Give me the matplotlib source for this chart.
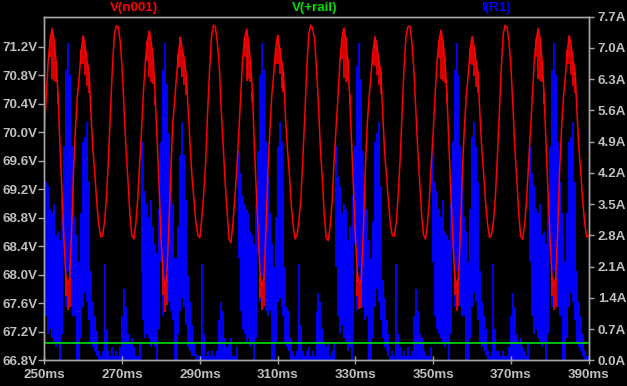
import numpy as np
import matplotlib
matplotlib.use("Agg")
import matplotlib.pyplot as plt

# ── Sample grid (ms) ─────────────────────────────────────────
T_START = 250.0
T_STEP = 0.5

# ── V(n001) upper trace, one value per 0.5 ms ───────────────
v_n001 = [
    70.0, 70.5, 71.0, 71.3, 71.45, 71.3, 71.0, 70.55, 69.85, 69.2,
    68.55, 68.0, 67.85, 67.95, 68.6, 69.45, 70.05, 70.5, 70.8, 71.15,
    71.35, 71.2, 71.0, 70.85, 70.25, 69.75, 69.4, 69.0, 68.7, 68.53,
    68.55, 68.75, 69.1, 69.65, 70.27, 70.9, 71.36, 71.49, 71.48, 71.28,
    70.9, 70.35, 69.77, 69.33, 68.85, 68.55, 68.5, 68.7, 69.05, 69.55,
    70.02, 70.58, 71.0, 71.28, 71.42, 71.25, 71.05, 70.5, 69.9, 69.25,
    68.5, 68.05, 67.8, 68.0, 68.65, 69.4, 70.1, 70.45, 70.78, 71.1,
    71.33, 71.15, 71.02, 70.8, 70.3, 69.8, 69.35, 69.05, 68.72, 68.55,
    68.52, 68.8, 69.15, 69.6, 70.3, 70.88, 71.35, 71.5, 71.47, 71.25,
    70.92, 70.3, 69.8, 69.3, 68.88, 68.5, 68.45, 68.72, 69.08, 69.5,
    69.98, 70.52, 71.02, 71.32, 71.44, 71.28, 70.98, 70.58, 69.82, 69.18,
    68.58, 67.98, 67.82, 67.98, 68.62, 69.48, 70.02, 70.52, 70.82, 71.18,
    71.36, 71.18, 70.98, 70.82, 70.22, 69.78, 69.42, 68.98, 68.68, 68.5,
    68.56, 68.78, 69.08, 69.68, 70.25, 70.92, 71.38, 71.5, 71.46, 71.3,
    70.88, 70.38, 69.75, 69.35, 68.82, 68.52, 68.48, 68.68, 69.02, 69.58,
    70.05, 70.48, 70.98, 71.3, 71.46, 71.32, 71.02, 70.52, 69.88, 69.22,
    68.52, 68.02, 67.86, 67.92, 68.58, 69.42, 70.08, 70.48, 70.8, 71.12,
    71.34, 71.22, 71.0, 70.86, 70.28, 69.72, 69.38, 69.02, 68.7, 68.55,
    68.54, 68.74, 69.12, 69.62, 70.28, 70.9, 71.35, 71.48, 71.49, 71.27,
    70.9, 70.33, 69.78, 69.32, 68.86, 68.56, 68.5, 68.7, 69.06, 69.56,
    70.0, 70.54, 71.0, 71.29, 71.43, 71.28, 71.02, 70.56, 69.86, 69.2,
    68.56, 68.0, 67.84, 67.96, 68.6, 69.46, 70.04, 70.5, 70.8, 71.16,
    71.34, 71.2, 71.0, 70.84, 70.26, 69.76, 69.4, 69.0, 68.7, 68.52,
    68.56, 68.76, 69.1, 69.66, 70.26, 70.9, 71.37, 71.5, 71.47, 71.27,
    70.9, 70.36, 69.76, 69.34, 68.84, 68.54, 68.5, 68.7, 69.04, 69.54,
    70.02, 70.5, 71.0, 71.3, 71.45, 71.3, 71.0, 70.55, 69.85, 69.2,
    68.55, 68.0, 67.85, 67.95, 68.6, 69.45, 70.05, 70.5, 70.8, 71.15,
    71.35, 71.2, 71.0, 70.85, 70.25, 69.75, 69.4, 69.0, 68.7, 68.53,
    68.55,
]

# ── V(n001) ripple noise: lower edge of the jagged bands ────
noise_ms = [
    251.5, 252.0, 252.5, 253.0, 253.5, 255.5, 256.0, 256.5, 259.5, 260.0, 260.5, 261.0, 261.5,
    276.5, 277.0, 277.5, 278.0, 278.5, 280.5, 281.0, 281.5, 284.5, 285.0, 285.5, 286.0, 286.5,
    301.5, 302.0, 302.5, 303.0, 303.5, 305.5, 306.0, 306.5, 309.5, 310.0, 310.5, 311.0, 311.5,
    326.5, 327.0, 327.5, 328.0, 328.5, 330.5, 331.0, 331.5, 334.5, 335.0, 335.5, 336.0, 336.5,
    351.5, 352.0, 352.5, 353.0, 353.5, 355.5, 356.0, 356.5, 359.5, 360.0, 360.5, 361.0, 361.5,
    376.5, 377.0, 377.5, 378.0, 378.5, 380.5, 381.0, 381.5, 384.5, 385.0, 385.5, 386.0, 386.5,
]
noise_lo = [
    71.05, 70.75, 70.72, 70.7, 70.4, 67.7, 67.5, 67.55, 70.95, 70.95, 70.8, 70.65, 70.55,
    71.0, 70.78, 70.7, 70.68, 70.38, 67.72, 67.48, 67.58, 70.9, 70.92, 70.78, 70.66, 70.52,
    71.05, 70.72, 70.74, 70.7, 70.42, 67.68, 67.5, 67.56, 70.95, 70.96, 70.82, 70.62, 70.56,
    71.02, 70.76, 70.7, 70.72, 70.4, 67.7, 67.52, 67.54, 70.94, 70.93, 70.8, 70.66, 70.54,
    71.04, 70.74, 70.72, 70.69, 70.41, 67.71, 67.49, 67.56, 70.96, 70.94, 70.79, 70.64, 70.55,
    71.05, 70.75, 70.72, 70.7, 70.4, 67.7, 67.5, 67.55, 70.95, 70.95, 70.8, 70.65, 70.55,
]

# ── I(R1): burst top and bottom per 0.5 ms (A) ──────────────
i_r1_hi = [
    4.8, 4.0, 3.9, 3.4, 3.3, 3.5, 2.8, 2.9, 2.7, 3.6,
    4.8, 6.5, 7.1, 6.4, 4.8, 4.0, 3.2, 2.8, 2.2, 3.3,
    4.9, 5.0, 5.35, 4.0, 2.0, 1.3, 1.0, 0.65, 0.2, 0.1,
    0.2, 2.15, 0.7, 0.2, 0.1, 0.3, 0.1, 0.2, 0.1, 0.3,
    1.0, 1.6, 1.2, 0.6, 0.4, 0.5, 0.3, 0.1, 0.1, 0.4,
    4.9, 4.5, 3.8, 3.5, 3.2, 3.6, 3.0, 2.6, 2.4, 3.4,
    4.9, 6.5, 7.1, 6.2, 5.1, 4.2, 3.5, 2.3, 2.3, 3.0,
    4.6, 5.35, 4.6, 3.6, 1.9, 1.3, 0.8, 0.4, 0.15, 0.1,
    0.1, 2.15, 0.6, 0.1, 0.2, 0.1, 0.2, 0.1, 0.1, 0.2,
    0.9, 1.3, 1.1, 0.5, 0.3, 0.4, 0.5, 0.1, 0.1, 0.3,
    4.7, 4.2, 3.7, 3.5, 3.4, 3.3, 2.9, 2.8, 2.6, 3.5,
    4.7, 6.4, 7.1, 6.5, 4.9, 4.1, 3.3, 2.6, 2.1, 3.2,
    4.8, 5.35, 4.9, 3.8, 2.1, 1.2, 1.1, 0.5, 0.2, 0.1,
    0.2, 2.15, 0.8, 0.2, 0.1, 0.2, 0.3, 0.1, 0.2, 0.1,
    1.1, 1.5, 1.3, 0.7, 0.4, 0.3, 0.4, 0.1, 0.2, 0.4,
    4.8, 4.1, 3.9, 3.3, 3.5, 3.4, 2.7, 3.0, 2.5, 3.7,
    4.8, 6.6, 7.1, 6.3, 4.7, 3.9, 3.4, 2.7, 2.3, 3.1,
    4.9, 5.1, 5.35, 3.9, 1.8, 1.4, 0.9, 0.6, 0.1, 0.2,
    0.1, 2.15, 0.6, 0.3, 0.1, 0.2, 0.1, 0.3, 0.1, 0.2,
    1.0, 1.6, 1.1, 0.6, 0.5, 0.4, 0.2, 0.1, 0.1, 0.3,
    4.9, 4.0, 3.8, 3.4, 3.2, 3.6, 2.9, 2.8, 2.7, 3.5,
    4.9, 6.5, 7.1, 6.4, 4.8, 4.1, 3.2, 2.9, 2.2, 3.4,
    5.0, 5.35, 4.8, 4.0, 2.0, 1.3, 1.0, 0.7, 0.2, 0.1,
    0.2, 2.15, 0.7, 0.2, 0.2, 0.1, 0.2, 0.1, 0.1, 0.3,
    1.0, 1.5, 1.2, 0.6, 0.4, 0.5, 0.3, 0.2, 0.1, 0.4,
    4.8, 4.2, 3.9, 3.4, 3.3, 3.5, 2.8, 2.9, 2.6, 3.6,
    4.8, 6.5, 7.1, 6.4, 4.9, 4.0, 3.3, 2.8, 2.2, 3.3,
    4.9, 5.0, 5.35, 4.0, 2.0, 1.3, 1.0, 0.6, 0.2, 0.1,
    0.1,
]
i_r1_lo = [
    2.2, 1.0, 0.6, 0.7, 0.5, 0.4, 0.3, 0.4, 0.0, 0.6,
    2.5, 1.2, 2.0, 1.8, 1.2, 1.0, 1.0, 0.0, 0.0, 0.5,
    1.2, 1.5, 1.3, 0.9, 0.4, 0.3, 0.2, 0.1, 0.0, 0.0,
    0.0, 0.0, 0.0, 0.0, 0.0, 0.0, 0.0, 0.0, 0.0, 0.0,
    0.0, 0.0, 0.0, 0.0, 0.0, 0.0, 0.0, 0.0, 0.0, 0.0,
    2.0, 0.9, 0.5, 0.6, 0.5, 0.3, 0.4, 0.3, 0.0, 0.7,
    2.2, 1.0, 1.8, 2.0, 1.3, 1.1, 0.9, 0.0, 0.0, 0.6,
    1.1, 1.4, 1.2, 0.8, 0.3, 0.2, 0.1, 0.1, 0.0, 0.0,
    0.0, 0.0, 0.0, 0.0, 0.0, 0.0, 0.0, 0.0, 0.0, 0.0,
    0.0, 0.0, 0.0, 0.0, 0.0, 0.0, 0.0, 0.0, 0.0, 0.0,
    2.3, 1.1, 0.7, 0.6, 0.4, 0.5, 0.3, 0.4, 0.0, 0.5,
    2.4, 1.3, 1.9, 1.7, 1.1, 1.0, 1.1, 0.0, 0.0, 0.4,
    1.3, 1.4, 1.2, 1.0, 0.4, 0.3, 0.2, 0.0, 0.0, 0.0,
    0.0, 0.0, 0.0, 0.0, 0.0, 0.0, 0.0, 0.0, 0.0, 0.0,
    0.0, 0.0, 0.0, 0.0, 0.0, 0.0, 0.0, 0.0, 0.0, 0.0,
    2.1, 1.0, 0.6, 0.8, 0.5, 0.4, 0.2, 0.3, 0.0, 0.6,
    2.6, 1.1, 2.1, 1.8, 1.2, 0.9, 1.0, 0.0, 0.0, 0.5,
    1.2, 1.6, 1.3, 0.9, 0.5, 0.3, 0.2, 0.1, 0.0, 0.0,
    0.0, 0.0, 0.0, 0.0, 0.0, 0.0, 0.0, 0.0, 0.0, 0.0,
    0.0, 0.0, 0.0, 0.0, 0.0, 0.0, 0.0, 0.0, 0.0, 0.0,
    2.2, 1.0, 0.7, 0.6, 0.5, 0.4, 0.3, 0.4, 0.0, 0.6,
    2.5, 1.2, 2.0, 1.9, 1.2, 1.0, 1.0, 0.0, 0.0, 0.5,
    1.2, 1.5, 1.3, 0.9, 0.4, 0.3, 0.2, 0.1, 0.0, 0.0,
    0.0, 0.0, 0.0, 0.0, 0.0, 0.0, 0.0, 0.0, 0.0, 0.0,
    0.0, 0.0, 0.0, 0.0, 0.0, 0.0, 0.0, 0.0, 0.0, 0.0,
    2.2, 1.0, 0.6, 0.7, 0.5, 0.4, 0.3, 0.4, 0.0, 0.6,
    2.5, 1.2, 2.0, 1.8, 1.2, 1.0, 1.0, 0.0, 0.0, 0.5,
    1.2, 1.5, 1.3, 0.9, 0.4, 0.3, 0.2, 0.1, 0.0, 0.0,
    0.0,
]

V_RAIL = 67.04   # V(+rail), flat

volt_ticks = [66.8, 67.2, 67.6, 68.0, 68.4, 68.8, 69.2, 69.6, 70.0, 70.4, 70.8, 71.2]
amp_ticks = [0.0, 0.7, 1.4, 2.1, 2.8, 3.5, 4.2, 4.9, 5.6, 6.3, 7.0, 7.7]
time_ticks = [250, 270, 290, 310, 330, 350, 370, 390]

# ── Colours / style ──────────────────────────────────────────
BG = "#000000"
FRAME = "#a8a8a8"
TEXT = "#c0c0c0"
RED = "#ff0000"
GREEN = "#00e000"
BLUE = "#0000ff"
FONT = dict(family="Liberation Sans", size=9.6, weight="bold")

t = T_START + T_STEP * np.arange(len(v_n001))

fig = plt.figure(figsize=(6.27, 3.86), dpi=100, facecolor=BG)
ax = fig.add_axes([0.0707, 0.0666, 0.8683, 0.8902])
ax2 = ax.twinx()
ax2.set_facecolor(BG)
ax.set_zorder(ax2.get_zorder() + 1)
ax.patch.set_visible(False)

# current on the right axis (drawn underneath)
ax2.vlines(t, i_r1_lo, i_r1_hi, color=BLUE, linewidth=1.4)

# voltages on the left axis (drawn on top)
ax.vlines(noise_ms, noise_lo, np.interp(noise_ms, t, v_n001), color=RED, linewidth=1.2)
ax.plot(t, v_n001, color=RED, linewidth=1.1)
ax.axhline(V_RAIL, color=GREEN, linewidth=1.2)

ax.set_xlim(250, 390)
ax.set_ylim(66.8, 71.62)
ax2.set_ylim(0, 7.7)

ax.set_yticks(volt_ticks, [f"{v:.1f}V" for v in volt_ticks])
ax2.set_yticks(amp_ticks, [f"{a:.1f}A" for a in amp_ticks])
ax.set_xticks(time_ticks, [f"{x}ms" for x in time_ticks])

ax.tick_params(axis="y", direction="out", length=4.3, width=1, color=FRAME,
               labelcolor=TEXT, pad=0.8)
ax.tick_params(axis="x", direction="inout", length=6, width=1, color=FRAME,
               labelcolor=TEXT, pad=3)
ax2.tick_params(axis="y", direction="out", length=3.6, width=1, color=FRAME,
                labelcolor=TEXT, pad=2.8)
for a in (ax, ax2):
    for lab in a.get_xticklabels() + a.get_yticklabels():
        lab.set_fontfamily(FONT["family"])
        lab.set_fontsize(FONT["size"])
        lab.set_fontweight(FONT["weight"])
    for sp in a.spines.values():
        sp.set_color(FRAME)
        sp.set_linewidth(1)

# trace names across the top
fig.text(133.7 / 627, 1 - 8 / 386, "V(n001)", color=RED, ha="center", va="center", **FONT)
fig.text(314.5 / 627, 1 - 8 / 386, "V(+rail)", color=GREEN, ha="center", va="center", **FONT)
fig.text(496 / 627, 1 - 8 / 386, "I(R1)", color=BLUE, ha="center", va="center", **FONT)

fig.savefig("out.png", dpi=100, facecolor=BG)
